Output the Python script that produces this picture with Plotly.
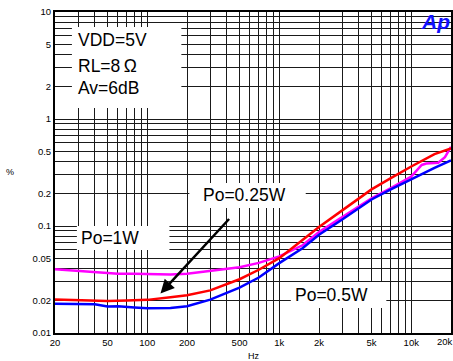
import plotly.graph_objects as go

# ---- data ----
freq_1w = [20, 30, 40, 50, 60, 80, 100, 150, 200, 300, 500, 700, 1000, 1500, 2000, 3000, 5000, 7000, 9000, 10000, 12000, 13000, 15000, 16000, 18000, 20000]
thd_1w = [0.0394, 0.038, 0.037, 0.0358, 0.0357, 0.0357, 0.0355, 0.0353, 0.0357, 0.0378, 0.0412, 0.0452, 0.052, 0.066, 0.088, 0.121, 0.181, 0.226, 0.266, 0.29, 0.372, 0.383, 0.388, 0.39, 0.44, 0.55]

freq_025w = [20, 30, 50, 70, 100, 150, 200, 300, 500, 700, 1000, 1500, 2000, 3000, 5000, 7000, 10000, 15000, 20000]
thd_025w = [0.0206, 0.0203, 0.0199, 0.0201, 0.0204, 0.0216, 0.0225, 0.025, 0.0318, 0.039, 0.050, 0.074, 0.098, 0.14, 0.22, 0.28, 0.36, 0.47, 0.53]

freq_05w = [20, 30, 40, 50, 60, 80, 100, 150, 200, 300, 500, 700, 1000, 1500, 2000, 3000, 5000, 7000, 10000, 15000, 20000]
thd_05w = [0.0188, 0.0186, 0.0186, 0.0177, 0.0178, 0.0173, 0.0170, 0.0171, 0.0178, 0.0205, 0.0265, 0.033, 0.045, 0.062, 0.083, 0.115, 0.177, 0.22, 0.275, 0.35, 0.41]

x_grid = [20, 30, 40, 50, 60, 70, 80, 90, 100, 200, 300, 400, 500, 600, 700, 800, 900,
          1000, 2000, 3000, 4000, 5000, 6000, 7000, 8000, 9000, 10000, 20000]
x_labels = {20: "20", 50: "50", 100: "100", 200: "200", 500: "500", 1000: "1k",
            2000: "2k", 5000: "5k", 10000: "10k"}
last_x_label = "20k"
y_grid = [0.01, 0.02, 0.03, 0.04, 0.05, 0.06, 0.07, 0.08, 0.09,
          0.1, 0.2, 0.3, 0.4, 0.5, 0.6, 0.7, 0.8, 0.9,
          1, 2, 3, 4, 5, 6, 7, 8, 9, 10]
y_labels = {0.01: "0.01", 0.02: "0.02", 0.05: "0.05", 0.1: "0.1", 0.2: "0.2",
            0.5: "0.5", 1: "1", 2: "2", 5: "5", 10: "10"}

W, H = 453, 361
ML, MR, MT, MB = 55, 0, 12, 28
PW = W - ML - MR
PH = H - MT - MB


def px(xp):
    return (xp - ML) / PW


def py(yp):
    return (H - MB - yp) / PH


FONT = "Arial, Liberation Sans, sans-serif"

fig = go.Figure()
fig.add_trace(go.Scatter(x=freq_1w, y=thd_1w, mode="lines", line=dict(color="#ff00ff", width=2.5), showlegend=False))
fig.add_trace(go.Scatter(x=freq_025w, y=thd_025w, mode="lines", line=dict(color="#ff0000", width=2.5), showlegend=False))
fig.add_trace(go.Scatter(x=freq_05w, y=thd_05w, mode="lines", line=dict(color="#0000ff", width=2.5), showlegend=False))

shapes = []
for (x0, x1, y0, y1) in [(72, 182, 27, 108), (77, 170, 226, 250), (190, 307, 183, 208), (292, 388, 282, 308)]:
    shapes.append(dict(type="rect", xref="paper", yref="paper", x0=px(x0), x1=px(x1), y0=py(y1), y1=py(y0),
                       fillcolor="white", line=dict(width=0), layer="above"))

annotations = []
for text, x, y in [("VDD=5V", 76.5, 40), ("RL=8\u2009\u03a9", 76.5, 66.5), ("Av=6dB", 76.5, 88)]:
    annotations.append(dict(text=text, x=px(x), y=py(y), xref="paper", yref="paper", xanchor="left", yanchor="middle",
                            showarrow=False, font=dict(family=FONT, size=17.5, color="black")))
for text, x, y in [("Po=1W", 79, 238), ("Po=0.25W", 202, 194.5), ("Po=0.5W", 294, 294.5)]:
    annotations.append(dict(text=text, x=px(x), y=py(y), xref="paper", yref="paper", xanchor="left", yanchor="middle",
                            showarrow=False, font=dict(family=FONT, size=17.5, color="black")))
# arrow pointing to the 0.25W curve
annotations.append(dict(text="", x=px(161), y=py(293.5), xref="paper", yref="paper", showarrow=True,
                        ax=70, ay=-76, axref="pixel", ayref="pixel", arrowhead=2, arrowsize=1.1,
                        arrowwidth=2.5, arrowcolor="black"))
# logo
annotations.append(dict(text="<b><i>Ap</i></b>", x=px(453), y=py(21), xref="paper", yref="paper", xanchor="right",
                        yanchor="middle", showarrow=False, borderpad=0,
                        font=dict(family=FONT, size=21, color="#1010ff")))
# last x tick label (shifted to fit inside the page, as in the original)
annotations.append(dict(text=last_x_label, x=px(447), y=py(341.5), xref="paper", yref="paper", xanchor="center",
                        yanchor="middle", showarrow=False, font=dict(family=FONT, size=9.5, color="black")))
# axis titles
annotations.append(dict(text="%", x=px(10), y=py(172), xref="paper", yref="paper", xanchor="center", yanchor="middle",
                        showarrow=False, font=dict(family=FONT, size=9, color="black")))
annotations.append(dict(text="Hz", x=px(255), y=py(356), xref="paper", yref="paper", xanchor="center", yanchor="middle",
                        showarrow=False, font=dict(family=FONT, size=9, color="black")))

fig.update_layout(
    width=W, height=H,
    margin=dict(l=ML, r=MR, t=MT, b=MB),
    paper_bgcolor="white", plot_bgcolor="white",
    shapes=shapes, annotations=annotations,
    font=dict(family=FONT, size=9, color="black"),
    xaxis=dict(type="log", range=[1.30103, 4.30103], tickmode="array", tickvals=x_grid,
               ticktext=[x_labels.get(v, "") for v in x_grid],
               showgrid=True, gridcolor="#1a1a1a", gridwidth=1.3,
               showline=True, linecolor="black", linewidth=2, mirror=True,
               ticks="", zeroline=False, tickfont=dict(family=FONT, size=9.5, color="black")),
    yaxis=dict(type="log", range=[-2, 1], tickmode="array", tickvals=y_grid,
               ticktext=[y_labels.get(v, "") for v in y_grid],
               showgrid=True, gridcolor="#1a1a1a", gridwidth=1.3,
               showline=True, linecolor="black", linewidth=2, mirror=True,
               ticks="", zeroline=False, tickfont=dict(family=FONT, size=9.5, color="black")),
)

fig.write_html("out.html")
